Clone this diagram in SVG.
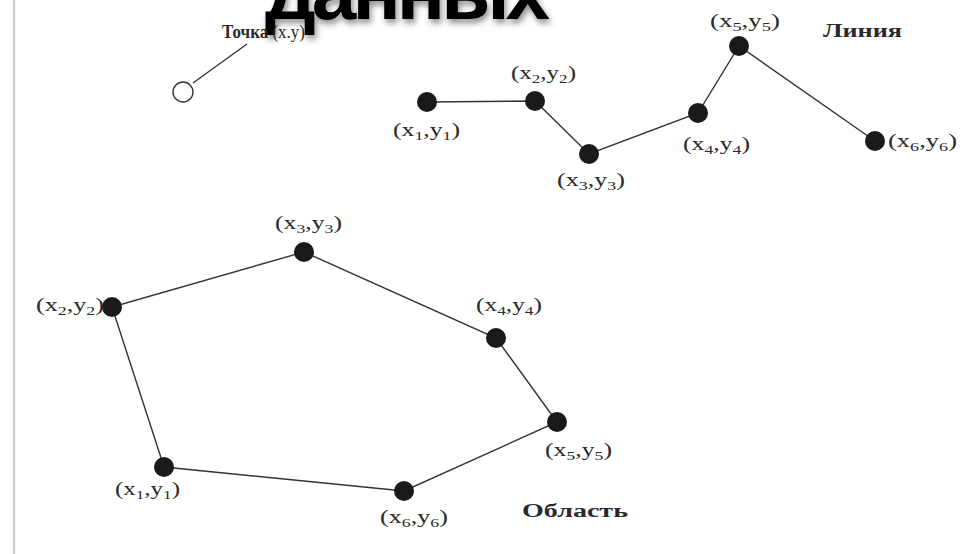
<svg xmlns="http://www.w3.org/2000/svg" width="979" height="554" viewBox="0 0 979 554">
  <defs>
    <filter id="shadow" x="-10%" y="-50%" width="120%" height="200%">
      <feDropShadow dx="2" dy="4" stdDeviation="3" flood-color="#000" flood-opacity="0.45"/>
    </filter>
    <style>
      .lbl { font-family: "Liberation Serif", "Times New Roman", serif; font-size: 19px; fill: #2a2a2a; }
      .sub { font-size: 13px; }
      .cap { font-family: "Liberation Serif", "Times New Roman", serif; font-size: 18px; font-weight: bold; fill: #2a2a2a; }
      .dot { fill: #1a1a1a; }
      .edge { stroke: #333; stroke-width: 1.4; fill: none; }
    </style>
  </defs>
  <rect width="979" height="554" fill="#ffffff"/>
  <line x1="14" y1="0" x2="14" y2="554" stroke="#cfcfcf" stroke-width="2.5"/>

  <text x="265" y="19" font-family="Liberation Sans, Arial, sans-serif" font-weight="bold" font-size="80" fill="#000" textLength="285" filter="url(#shadow)">данных</text>

  <g id="connectors">
    <line class="edge" x1="193" y1="83" x2="247" y2="44"/>
    <polyline class="edge" points="427,102 535,101 589,154 698,113 739,46 875,141"/>
    <polygon class="edge" points="164,467 112,307 304,252 496,338 557,422 404,491"/>
  </g>

  <g id="point">
    <circle cx="183" cy="92" r="10" fill="#fff" stroke="#333" stroke-width="1.4"/>
    <text x="222" y="38" class="lbl" font-size="15" textLength="83" lengthAdjust="spacingAndGlyphs"><tspan font-weight="bold">Точка</tspan> (x.y)</text>
  </g>

  <g id="line-label"><text x="823" y="37" class="cap" textLength="79" lengthAdjust="spacingAndGlyphs">Линия</text></g>
  <g id="area-label"><text x="522" y="517" class="cap" textLength="106" lengthAdjust="spacingAndGlyphs">Область</text></g>

  <g id="line-p1"><circle class="dot" cx="427" cy="102" r="10"/>
    <text class="lbl" x="393" y="136" textLength="67" lengthAdjust="spacingAndGlyphs">(x<tspan class="sub" dy="4">1</tspan><tspan dy="-4">,y</tspan><tspan class="sub" dy="4">1</tspan><tspan dy="-4">)</tspan></text></g>
  <g id="line-p2"><circle class="dot" cx="535" cy="101" r="10"/>
    <text class="lbl" x="511" y="79" textLength="65" lengthAdjust="spacingAndGlyphs">(x<tspan class="sub" dy="4">2</tspan><tspan dy="-4">,y</tspan><tspan class="sub" dy="4">2</tspan><tspan dy="-4">)</tspan></text></g>
  <g id="line-p3"><circle class="dot" cx="589" cy="154" r="10"/>
    <text class="lbl" x="557" y="186" textLength="68" lengthAdjust="spacingAndGlyphs">(x<tspan class="sub" dy="4">3</tspan><tspan dy="-4">,y</tspan><tspan class="sub" dy="4">3</tspan><tspan dy="-4">)</tspan></text></g>
  <g id="line-p4"><circle class="dot" cx="698" cy="113" r="10"/>
    <text class="lbl" x="683" y="150" textLength="67" lengthAdjust="spacingAndGlyphs">(x<tspan class="sub" dy="4">4</tspan><tspan dy="-4">,y</tspan><tspan class="sub" dy="4">4</tspan><tspan dy="-4">)</tspan></text></g>
  <g id="line-p5"><circle class="dot" cx="739" cy="46" r="10"/>
    <text class="lbl" x="710" y="27" textLength="70" lengthAdjust="spacingAndGlyphs">(x<tspan class="sub" dy="4">5</tspan><tspan dy="-4">,y</tspan><tspan class="sub" dy="4">5</tspan><tspan dy="-4">)</tspan></text></g>
  <g id="line-p6"><circle class="dot" cx="875" cy="141" r="10"/>
    <text class="lbl" x="888" y="147" textLength="69" lengthAdjust="spacingAndGlyphs">(x<tspan class="sub" dy="4">6</tspan><tspan dy="-4">,y</tspan><tspan class="sub" dy="4">6</tspan><tspan dy="-4">)</tspan></text></g>

  <g id="area-p1"><circle class="dot" cx="164" cy="467" r="10"/>
    <text class="lbl" x="115" y="495" textLength="65" lengthAdjust="spacingAndGlyphs">(x<tspan class="sub" dy="4">1</tspan><tspan dy="-4">,y</tspan><tspan class="sub" dy="4">1</tspan><tspan dy="-4">)</tspan></text></g>
  <g id="area-p2"><circle class="dot" cx="112" cy="307" r="10"/>
    <text class="lbl" x="36" y="311" textLength="68" lengthAdjust="spacingAndGlyphs">(x<tspan class="sub" dy="4">2</tspan><tspan dy="-4">,y</tspan><tspan class="sub" dy="4">2</tspan><tspan dy="-4">)</tspan></text></g>
  <g id="area-p3"><circle class="dot" cx="304" cy="252" r="10"/>
    <text class="lbl" x="275" y="229" textLength="67" lengthAdjust="spacingAndGlyphs">(x<tspan class="sub" dy="4">3</tspan><tspan dy="-4">,y</tspan><tspan class="sub" dy="4">3</tspan><tspan dy="-4">)</tspan></text></g>
  <g id="area-p4"><circle class="dot" cx="496" cy="338" r="10"/>
    <text class="lbl" x="476" y="311" textLength="66" lengthAdjust="spacingAndGlyphs">(x<tspan class="sub" dy="4">4</tspan><tspan dy="-4">,y</tspan><tspan class="sub" dy="4">4</tspan><tspan dy="-4">)</tspan></text></g>
  <g id="area-p5"><circle class="dot" cx="557" cy="422" r="10"/>
    <text class="lbl" x="545" y="456" textLength="67" lengthAdjust="spacingAndGlyphs">(x<tspan class="sub" dy="4">5</tspan><tspan dy="-4">,y</tspan><tspan class="sub" dy="4">5</tspan><tspan dy="-4">)</tspan></text></g>
  <g id="area-p6"><circle class="dot" cx="404" cy="491" r="10"/>
    <text class="lbl" x="380" y="523" textLength="68" lengthAdjust="spacingAndGlyphs">(x<tspan class="sub" dy="4">6</tspan><tspan dy="-4">,y</tspan><tspan class="sub" dy="4">6</tspan><tspan dy="-4">)</tspan></text></g>
</svg>
